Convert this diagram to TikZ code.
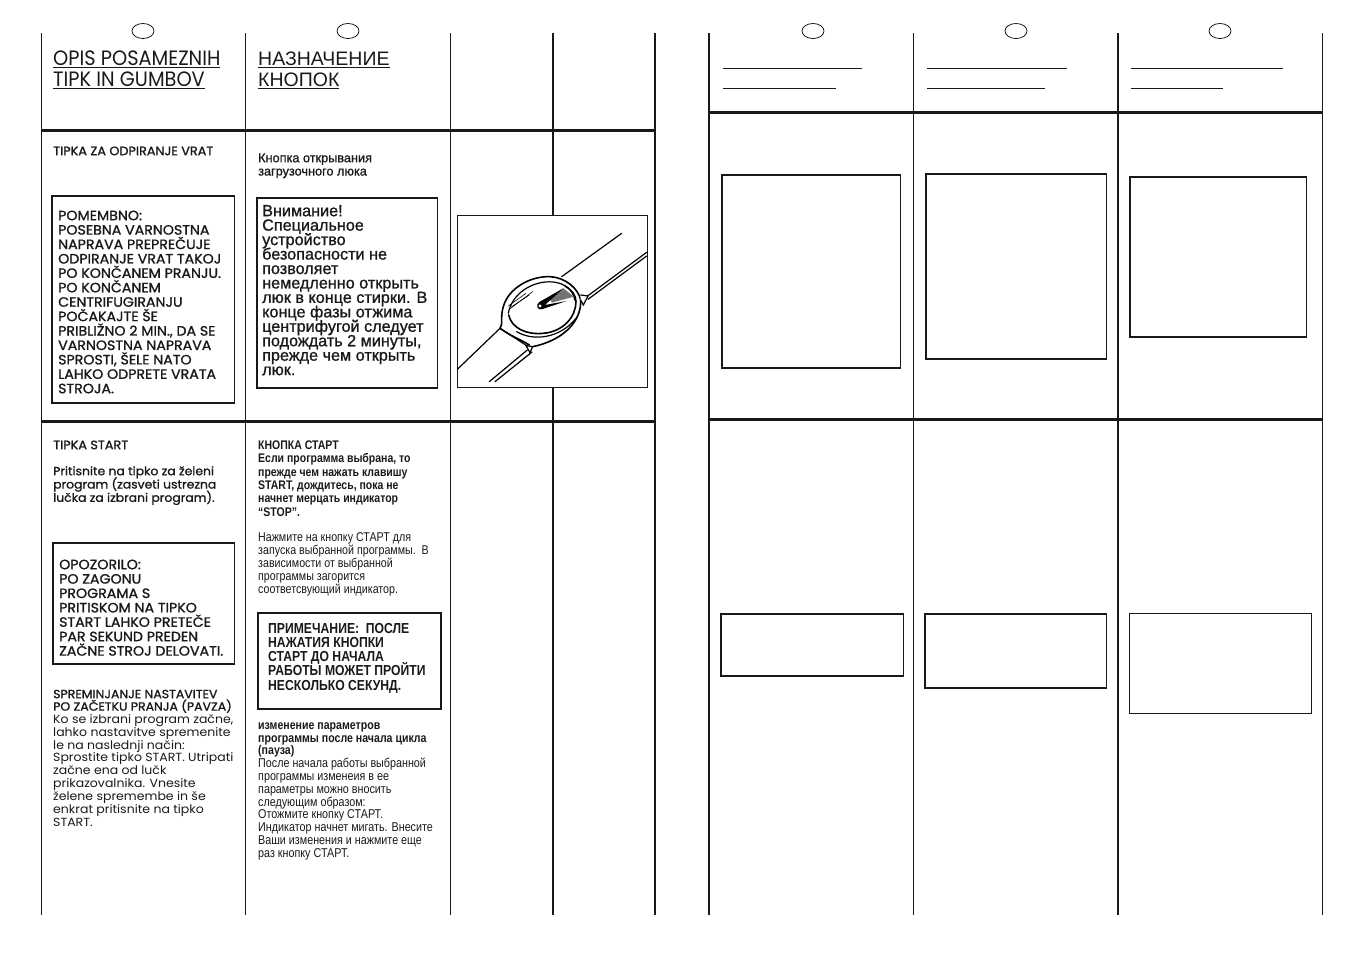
\documentclass[tikz,border=0pt]{standalone}
\usepackage{fontspec}
\setmainfont{Liberation Sans}
\newfontfamily\agtitle{Poppins}[FakeStretch=0.93]
\newfontfamily\agreg{Poppins}[FakeStretch=1.06]
\newfontfamily\agmed{Poppins}[FakeStretch=1.05,FakeBold=1.2]
\newfontfamily\rureg{Liberation Sans}
\newfontfamily\rubold{Liberation Sans}[FakeBold=1]
\newfontfamily\runarrow{Liberation Sans}[FakeStretch=0.84]
\newfontfamily\runarrowb{Liberation Sans Bold}[FakeStretch=0.84]
\newcommand{\fs}[2]{\fontsize{#1pt}{#2pt}\selectfont\lineskiplimit=-30pt\relax}
\newcommand{\strt}{\rule{0pt}{16pt}}
\tikzset{
  thin rule/.style={line width=1pt,black!90},
  thick rule/.style={line width=2pt,black!90},
  heavy rule/.style={line width=3pt,black!90},
  framebox/.style={draw=black!90,line width=1.4pt,fill=white},
  mark oval/.style={draw=black,line width=.7pt,ellipse,minimum width=22pt,minimum height=15pt,inner sep=0pt},
  para/.style={inner sep=0pt,anchor=north west,align=left,text=black!90},
  inkline/.style={line width=1.2pt,black,line cap=round},
}
\usetikzlibrary{shapes.geometric,patterns}
\begin{document}
\begin{tikzpicture}[x=1pt,y=-1pt]
\useasboundingbox (0,0) rectangle (1351,954);
% columns
\foreach \x in {41.5,245.5,450.5,913.5,1322.5} \draw[thin rule] (\x,33) -- (\x,915);
\foreach \x in {553,655,709,1118} \draw[thick rule] (\x,33) -- (\x,915);
% bands
\draw[heavy rule] (41,130) -- (656,130);
\draw[heavy rule] (41,421) -- (656,421);
\draw[heavy rule] (709,112) -- (1322,112);
\draw[heavy rule] (709,419) -- (1322,419);
% marks
\node[mark oval] (m1) at (143,31) {};
\node[mark oval] (m2) at (348,31) {};
\node[mark oval] (m3) at (813,31) {};
\node[mark oval] (m4) at (1016,31) {};
\node[mark oval] (m5) at (1220,31) {};
% empty title rules on right page
\draw[thin rule] (723,68) -- (862,68);
\draw[thin rule] (723,88) -- (836,88);
\draw[thin rule] (927,68) -- (1067,68);
\draw[thin rule] (927,88) -- (1045,88);
\draw[thin rule] (1131,68) -- (1283,68);
\draw[thin rule] (1131,88) -- (1223,88);
% right page frames
\draw[framebox] (722,175) rectangle (900.5,368);
\draw[framebox] (926,174) rectangle (1106.5,359);
\draw[framebox] (1130,177) rectangle (1306.5,337);
\draw[framebox] (721,614) rectangle (903.5,676);
\draw[framebox] (925,614) rectangle (1106.5,688);
\draw[framebox,line width=1pt] (1129.5,613.5) rectangle (1311,713.5);
% left page frames
\draw[framebox] (52,196) rectangle (234.5,403);
\draw[framebox] (257,198) rectangle (437.5,388);
\draw[framebox] (53,543) rectangle (234.5,664);
\draw[framebox] (258,613) rectangle (441,709);
% watch picture
\draw[framebox,line width=1pt] (457.5,215.5) rectangle (647.5,387.5);
\begin{scope}[shift={(450,200)},x=0.3333pt,y=-0.3333pt]
\draw[inkline] (335,230) -- (515,100);
\draw[inkline] (410,290) -- (590,157);
\draw[inkline] (414,298) -- (590,168);
\draw[inkline] (150,385) -- (22,508);
\draw[inkline] (150,385) -- (235,440);
\draw[inkline] (232,450) -- (118,545);
\draw[inkline] (246,456) -- (135,545);
\draw[inkline,line width=1.6pt] (150,385) .. controls (160,375) and (150,350) .. (160,320) .. controls (175,265) and (240,228) .. (300,230) .. controls (345,232) and (385,265) .. (392,300) .. controls (395,360) and (345,420) .. (248,440);
\draw[inkline,line width=1.6pt] (150,385) .. controls (185,410) and (215,420) .. (238,435);
\draw[inkline] (175,340) .. controls (185,280) and (250,240) .. (310,246) .. controls (345,250) and (370,270) .. (374,300);
\draw[inkline,line width=1.6pt] (176,345) .. controls (185,385) and (230,405) .. (280,400) .. controls (340,395) and (378,350) .. (378,305) .. controls (378,285) and (365,270) .. (345,258);
\draw[inkline] (200,395) .. controls (250,425) and (330,415) .. (378,355);
\draw[inkline,fill=white] (392,285) -- (414,288) -- (400,315) -- (392,300);
\draw[inkline,fill=white] (228,437) -- (248,440) -- (240,458) -- cycle;
\draw[inkline,line width=.6pt] (175,318) -- (228,280);
\draw[inkline,line width=.6pt] (178,328) -- (248,275);
\draw[inkline,line width=.6pt] (185,320) -- (238,285);
\fill[black!55] (340,265) -- (372,290) -- (305,308) -- (298,290) -- cycle;
\fill[black] (340,265) -- (268,306) .. controls (254,316) and (264,334) .. (278,327) -- (350,303) -- (285,315) -- cycle;
\fill[white] (270,318) circle[radius=5];
\end{scope}
% titles
\node[para,font={\agtitle\fs{20.8}{21}}] (t1) at (53,49) {\strt\underline{OPIS POSAMEZNIH}\\\underline{TIPK IN GUMBOV}};
\node[para,font={\rureg\fs{19.5}{21}}] (t2) at (258,49) {\strt\underline{НАЗНАЧЕНИЕ}\\\underline{КНОПОК}};
% door button
\node[para,font={\agmed\fs{12.2}{13}}] (a1) at (53,139) {\strt TIPKA ZA ODPIRANJE VRAT};
\node[para,font={\rubold\fs{12.7}{13.3}}] (a2) at (258,146) {\strt Кнопка открывания\\загрузочного люка};
\node[para,font={\agmed\fs{13.5}{14.42}}] (a3) at (58,204) {\strt POMEMBNO:\\POSEBNA VARNOSTNA\\NAPRAVA PREPREČUJE\\ODPIRANJE VRAT TAKOJ\\PO KONČANEM PRANJU.\\PO KONČANEM\\CENTRIFUGIRANJU\\POČAKAJTE ŠE\\PRIBLIŽNO 2 MIN., DA SE\\VARNOSTNA NAPRAVA\\SPROSTI, ŠELE NATO\\LAHKO ODPRETE VRATA\\STROJA.};
\node[para,font={\rubold\fs{16.2}{14.45}}] (a4) at (262,200) {\strt Внимание!\\Специальное\\устройство\\безопасности не\\позволяет\\немедленно открыть\\люк в конце стирки. В\\конце фазы отжима\\центрифугой следует\\подождать 2 минуты,\\прежде чем открыть\\люк.};
% start button
\node[para,font={\agmed\fs{12.2}{13}}] (b1) at (53,433) {\strt TIPKA START};
\node[para,font={\agmed\fs{11.8}{13.3}}] (b2) at (53,459) {\strt Pritisnite na tipko za želeni\\program (zasveti ustrezna\\lučka za izbrani program).};
\node[para,font={\agmed\fs{13.5}{14.4}}] (b3) at (59,553) {\strt OPOZORILO:\\PO ZAGONU\\PROGRAMA S\\PRITISKOM NA TIPKO\\START LAHKO PRETEČE\\PAR SEKUND PREDEN\\ZAČNE STROJ DELOVATI.};
\node[para,font={\agmed\fs{11.9}{12.4}}] (b4) at (53,682) {\strt SPREMINJANJE NASTAVITEV\\PO ZAČETKU PRANJA (PAVZA)};
\node[para,font={\agreg\fs{11.8}{12.9}}] (b5) at (53,707) {\strt Ko se izbrani program začne,\\lahko nastavitve spremenite\\le na naslednji način:\\Sprostite tipko START. Utripati\\začne ena od lučk\\prikazovalnika. Vnesite\\želene spremembe in še\\enkrat pritisnite na tipko\\START.};
\node[para,font={\runarrowb\fs{12.5}{13.4}}] (c1) at (258,433) {\strt КНОПКА СТАРТ\\Если программа выбрана, то\\прежде чем нажать клавишу\\START, дождитесь, пока не\\начнет мерцать индикатор\\“STOP”.};
\node[para,font={\runarrow\fs{12.7}{13}}] (c2) at (258,525) {\strt Нажмите на кнопку СТАРТ для\\запуска выбранной программы.~~В\\зависимости от выбранной\\программы загорится\\соответсвующий индикатор.};
\node[para,font={\runarrowb\fs{14.5}{14.2}}] (c3) at (268,617) {\strt ПРИМЕЧАНИЕ:~~ПОСЛЕ\\НАЖАТИЯ КНОПКИ\\СТАРТ ДО НАЧАЛА\\РАБОТЫ МОЖЕТ ПРОЙТИ\\НЕСКОЛЬКО СЕКУНД.};
\node[para,font={\runarrowb\fs{12.6}{12.8}}] (c4) at (258,713) {\strt изменение параметров\\программы после начала цикла\\(пауза)};
\node[para,font={\runarrow\fs{12.8}{12.8}}] (c5) at (258,751.4) {\strt После начала работы выбранной\\программы изменеия в ее\\параметры можно вносить\\следующим образом:\\Отожмите кнопку СТАРТ.\\Индикатор начнет мигать. Внесите\\Ваши изменения и нажмите еще\\раз кнопку СТАРТ.};
\end{tikzpicture}
\end{document}
